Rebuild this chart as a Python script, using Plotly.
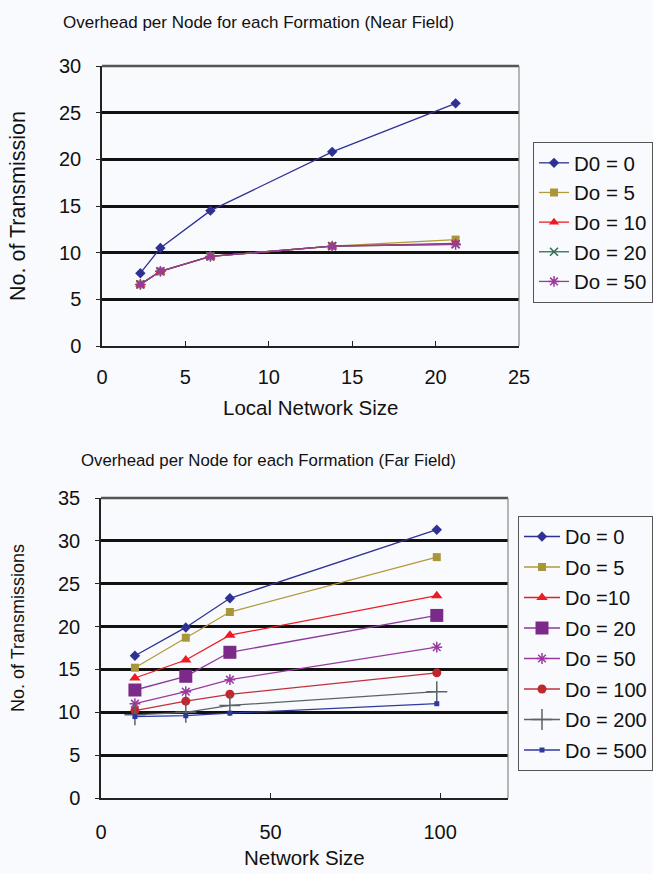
import plotly.graph_objects as go

W, H = 653, 874
BG = "#f9fafd"
FONT = "Arial, Liberation Sans, sans-serif"

# ---- Near field data ----
near_x = [2.3, 3.5, 6.5, 13.8, 21.2]
near_names = ["D0 = 0", "Do = 5", "Do = 10", "Do = 20", "Do = 50"]
near_d0 = [7.8, 10.5, 14.5, 20.8, 26.0]
near_d5 = [6.6, 8.0, 9.6, 10.7, 11.4]
near_d10 = [6.6, 8.0, 9.6, 10.7, 11.0]
near_d20 = [6.6, 8.0, 9.6, 10.7, 10.9]
near_d50 = [6.6, 8.0, 9.6, 10.7, 10.9]

# ---- Far field data ----
far_x = [10, 25, 38, 99]
far_names = ["Do = 0", "Do = 5", "Do =10", "Do = 20", "Do = 50", "Do = 100", "Do = 200", "Do = 500"]
far_d0 = [16.6, 19.9, 23.3, 31.3]
far_d5 = [15.2, 18.7, 21.7, 28.1]
far_d10 = [14.0, 16.1, 19.0, 23.6]
far_d20 = [12.6, 14.2, 17.0, 21.3]
far_d50 = [11.0, 12.4, 13.8, 17.6]
far_d100 = [10.2, 11.3, 12.1, 14.6]
far_d200 = [9.7, 10.0, 10.8, 12.4]
far_d500 = [9.5, 9.6, 9.9, 11.0]

near_ticks_x = [0, 5, 10, 15, 20, 25]
near_ticks_y = [0, 5, 10, 15, 20, 25, 30]
far_ticks_x = [0, 50, 100]
far_ticks_y = [0, 5, 10, 15, 20, 25, 30, 35]

fig = go.Figure()

near_styles = [
    dict(line_color="#2e3192", marker=dict(symbol="diamond", size=8, color="#2e3192")),
    dict(line_color="#b09a3a", marker=dict(symbol="square", size=8, color="#a8963a")),
    dict(line_color="#ed1c24", marker=dict(symbol="triangle-up", size=9, color="#ed1c24")),
    dict(line_color="#2e6e4e", marker=dict(symbol="x-thin-open", size=8, line=dict(color="#2e6e4e", width=1.5))),
    dict(line_color="#9a3a9a", marker=dict(symbol="asterisk-open", size=9, line=dict(color="#b03ab0", width=1.5))),
]
near_data = [near_d0, near_d5, near_d10, near_d20, near_d50]
for i, (name, ys, st) in enumerate(zip(near_names, near_data, near_styles)):
    fig.add_trace(go.Scatter(
        x=near_x, y=ys, name=name, mode="lines+markers",
        line=dict(color=st["line_color"], width=1.3), marker=st["marker"],
        xaxis="x", yaxis="y", legend="legend", legendgroup="n%d" % i))

far_styles = [
    dict(line_color="#2e3192", marker=dict(symbol="diamond", size=8, color="#2e3192")),
    dict(line_color="#b09a3a", marker=dict(symbol="square", size=8, color="#a8963a")),
    dict(line_color="#ed1c24", marker=dict(symbol="triangle-up", size=10, color="#ed1c24")),
    dict(line_color="#8a3a9a", marker=dict(symbol="square", size=13, color="#7b2a8a")),
    dict(line_color="#9a3aa0", marker=dict(symbol="asterisk-open", size=9, line=dict(color="#b03ab0", width=1.5))),
    dict(line_color="#c0303c", marker=dict(symbol="circle", size=9, color="#c0272d")),
    dict(line_color="#5a6464", marker=dict(symbol="cross-thin-open", size=15, line=dict(color="#444444", width=1.5))),
    dict(line_color="#2e3aa0", marker=dict(symbol="square", size=5, color="#2e3a9a")),
]
far_data = [far_d0, far_d5, far_d10, far_d20, far_d50, far_d100, far_d200, far_d500]
for i, (name, ys, st) in enumerate(zip(far_names, far_data, far_styles)):
    fig.add_trace(go.Scatter(
        x=far_x, y=ys, name=name, mode="lines+markers",
        line=dict(color=st["line_color"], width=1.3), marker=st["marker"],
        xaxis="x2", yaxis="y2", legend="legend2", legendgroup="f%d" % i))

def px_x(p):
    return p / W

def px_y(p):
    return 1 - p / H

axis_common = dict(
    showline=True, linecolor="#222", linewidth=1.5, automargin=False,
    tickfont=dict(family=FONT, size=20, color="#111"),
    zeroline=False,
)

fig.update_layout(
    template="none",
    width=W, height=H,
    margin=dict(l=0, r=0, t=0, b=0, autoexpand=False),
    paper_bgcolor=BG, plot_bgcolor=BG,
    font=dict(family=FONT, size=17, color="#111"),
    xaxis=dict(domain=[px_x(102), px_x(519)], range=[0, 25], tickvals=near_ticks_x,
               ticks="inside", ticklen=5, tickcolor="#222", showgrid=False,
               ticklabelstandoff=12, anchor="y", **axis_common),
    yaxis=dict(domain=[px_y(346), px_y(66)], range=[0, 30], tickvals=near_ticks_y,
               ticks="outside", ticklen=4, tickcolor="#222", showgrid=True,
               gridcolor="#111", gridwidth=2.5, ticklabelstandoff=11, anchor="x", **axis_common),
    xaxis2=dict(domain=[px_x(101), px_x(508)], range=[0, 120], tickvals=far_ticks_x,
                ticks="inside", ticklen=5, tickcolor="#222", showgrid=False,
                ticklabelstandoff=15, anchor="y2", **axis_common),
    yaxis2=dict(domain=[px_y(798), px_y(498)], range=[0, 35], tickvals=far_ticks_y,
                ticks="outside", ticklen=4, tickcolor="#222", showgrid=True,
                gridcolor="#111", gridwidth=2.5, ticklabelstandoff=11, anchor="x2", **axis_common),
    legend=dict(x=533 / W, y=1 - 142 / H, xref="container", yref="container",
                xanchor="left", yanchor="top",
                bgcolor=BG, bordercolor="#555", borderwidth=1,
                font=dict(family=FONT, size=20.5, color="#111"), tracegroupgap=0),
    legend2=dict(x=518 / W, y=1 - 516 / H, xref="container", yref="container",
                 xanchor="left", yanchor="top", itemwidth=36,
                 bgcolor=BG, bordercolor="#555", borderwidth=1,
                 font=dict(family=FONT, size=20, color="#111"), tracegroupgap=1.5),
    showlegend=True,
)

shapes = []
for xr, yr in [("x", "y"), ("x2", "y2")]:
    shapes.append(dict(type="line", xref=xr + " domain", yref=yr + " domain", x0=0, x1=1, y0=1, y1=1,
                       line=dict(color="#555", width=2.5)))
    shapes.append(dict(type="line", xref=xr + " domain", yref=yr + " domain", x0=1, x1=1, y0=0, y1=1,
                       line=dict(color="#888", width=1.2)))
fig.update_layout(shapes=shapes)

ann = [
    dict(text="Overhead per Node for each Formation (Near Field)", x=px_x(258), y=px_y(22), size=17),
    dict(text="Local Network Size", x=px_x(310), y=px_y(407), size=20.5),
    dict(text="No. of Transmission", x=px_x(18), y=px_y(206), textangle=-90, size=21.5),
    dict(text="Overhead per Node for each Formation (Far Field)", x=px_x(268), y=px_y(460), size=16.8),
    dict(text="Network Size", x=px_x(304), y=px_y(857), size=20.5),
    dict(text="No. of Transmissions", x=px_x(18), y=px_y(628), textangle=-90, size=18),
]
for a in ann:
    sz = a.pop("size")
    a.update(xref="paper", yref="paper", showarrow=False, xanchor="center", yanchor="middle",
             font=dict(family=FONT, size=sz, color="#111"))
fig.update_layout(annotations=ann)

fig.write_html("out.html")
